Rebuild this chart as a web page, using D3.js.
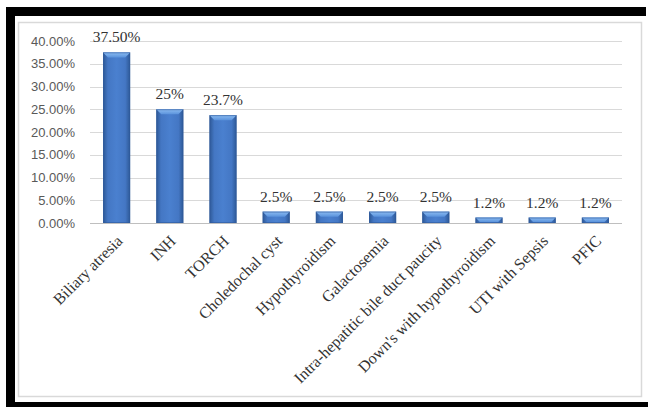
<!DOCTYPE html>
<html><head><meta charset="utf-8">
<script src="https://cdn.jsdelivr.net/npm/d3@7"></script>
<style>body{margin:0;background:#fff}svg{display:block}</style>
</head><body>
<svg id="c" width="648" height="407"></svg>
<script>
const categories = ["Biliary atresia","INH","TORCH","Choledochal cyst","Hypothyroidism","Galactosemia","Intra-hepatitic bile duct paucity","Down's with hypothyroidism","UTI with Sepsis","PFIC"];
const values = [0.375,0.25,0.237,0.025,0.025,0.025,0.025,0.012,0.012,0.012];
const valueLabels = ["37.50%","25%","23.7%","2.5%","2.5%","2.5%","2.5%","1.2%","1.2%","1.2%"];
const yTicks = [0,0.05,0.10,0.15,0.20,0.25,0.30,0.35,0.40];

const svg = d3.select("#c");
// frame
svg.append("rect").attr("x",6).attr("y",7).attr("width",640).attr("height",9).attr("fill","#000");
svg.append("rect").attr("x",6).attr("y",7).attr("width",9).attr("height",400).attr("fill","#000");
svg.append("rect").attr("x",6).attr("y",402).attr("width",642).attr("height",5).attr("fill","#000");
svg.append("rect").attr("x",18.5).attr("y",22.5).attr("width",623).attr("height",374)
  .attr("fill","#fff").attr("stroke","#d9d9d9").attr("stroke-width",1.5);

const defs = svg.append("defs");
const g1 = defs.append("linearGradient").attr("id","face").attr("x1","0").attr("x2","1").attr("y1","0").attr("y2","0");
[[0,"#2d5895"],[0.18,"#4477c4"],[0.5,"#4a80cf"],[0.82,"#4477c4"],[1,"#2d5895"]].forEach(s=>g1.append("stop").attr("offset",s[0]).attr("stop-color",s[1]));
const g2 = defs.append("linearGradient").attr("id","bevel").attr("x1","0").attr("x2","0").attr("y1","0").attr("y2","1");
[[0,"#8dbdf2"],[1,"#5b93dc"]].forEach(s=>g2.append("stop").attr("offset",s[0]).attr("stop-color",s[1]));

const x = d3.scaleBand().domain(categories).range([90,622]).paddingInner(0.49).paddingOuter(0.245);
const y = d3.scaleLinear().domain([0,0.4]).range([223,41]);

// gridlines
svg.append("g").selectAll("line").data(yTicks).join("line")
  .attr("x1",90).attr("x2",622).attr("y1",d=>Math.round(y(d))+0.5).attr("y2",d=>Math.round(y(d))+0.5)
  .attr("stroke",d=>d===0?"#bfbfbf":"#d9d9d9").attr("stroke-width",1);

// y axis labels
const yAxis = d3.axisLeft(y).tickValues(yTicks).tickFormat(d3.format(".2%")).tickSize(0).tickPadding(15);
const ya = svg.append("g").attr("transform","translate(90,0)").call(yAxis);
ya.select(".domain").remove();
ya.selectAll("text").attr("font-family","'Liberation Sans', Arial, sans-serif").attr("font-size",13).attr("fill","#595959");

// bars
const bars = svg.append("g").selectAll("g").data(values).join("g");
bars.append("rect")
  .attr("x",(d,i)=>x(categories[i])).attr("width",x.bandwidth())
  .attr("y",d=>y(d)).attr("height",d=>y(0)-y(d)).attr("fill","url(#face)");
bars.append("path").attr("fill","url(#bevel)").attr("d",(d,i)=>{
  const x0=x(categories[i]), w=x.bandwidth(), t=y(d), h=Math.min(5,y(0)-y(d)-1);
  const ins=Math.min(5,h);
  return `M${x0},${t}L${x0+w},${t}L${x0+w-ins},${t+h}L${x0+ins},${t+h}Z`;
});
bars.append("rect")
  .attr("x",(d,i)=>x(categories[i])+0.5).attr("width",x.bandwidth()-1)
  .attr("y",d=>y(d)+0.5).attr("height",d=>y(0)-y(d)-1)
  .attr("fill","none").attr("stroke","#2f5a9c").attr("stroke-width",1).attr("opacity",0.6);

// value labels
svg.append("g").selectAll("text").data(values).join("text")
  .attr("x",(d,i)=>x(categories[i])+x.bandwidth()/2).attr("y",d=>y(d)-10)
  .attr("text-anchor","middle").attr("font-family","'Liberation Serif','Times New Roman',serif")
  .attr("font-size",15.5).attr("fill","#333").text((d,i)=>valueLabels[i]);

// x labels
svg.append("g").selectAll("text").data(categories).join("text")
  .attr("transform",d=>`translate(${x(d)+x.bandwidth()/2+3},${238}) rotate(-45)`)
  .attr("text-anchor","end").attr("font-family","'Liberation Serif','Times New Roman',serif")
  .attr("font-size",16).attr("fill","#333").attr("dy","0.35em").text(d=>d);
</script>
</body></html>
